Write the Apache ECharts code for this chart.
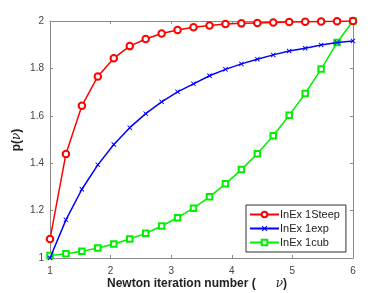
<!DOCTYPE html>
<html>
<head>
<meta charset="utf-8">
<script src="https://cdn.jsdelivr.net/npm/echarts@6/dist/echarts.min.js"></script>
<style>html,body{margin:0;padding:0;background:#fff}#c{width:390px;height:293px}</style>
</head>
<body>
<div id="c"></div>
<script>
const xVals = [1, 1.263, 1.526, 1.789, 2.053, 2.316, 2.579, 2.842, 3.105, 3.368, 3.632, 3.895, 4.158, 4.421, 4.684, 4.947, 5.211, 5.474, 5.737, 6];
const steepVals = [1.080, 1.439, 1.642, 1.766, 1.843, 1.894, 1.924, 1.947, 1.962, 1.974, 1.981, 1.987, 1.990, 1.992, 1.994, 1.996, 1.997, 1.998, 1.999, 2.0];
const expVals = [1.0, 1.161, 1.290, 1.393, 1.479, 1.550, 1.609, 1.659, 1.701, 1.735, 1.769, 1.796, 1.819, 1.839, 1.857, 1.873, 1.885, 1.899, 1.909, 1.916];
const cubVals = [1.011, 1.018, 1.028, 1.042, 1.059, 1.080, 1.104, 1.135, 1.170, 1.210, 1.258, 1.313, 1.373, 1.440, 1.516, 1.602, 1.694, 1.797, 1.909, 2.0];
const seriesNames = ['InEx 1Steep', 'InEx 1exp', 'InEx 1cub'];
const xTicks = [1, 2, 3, 4, 5, 6];
const yTicks = [1, 1.2, 1.4, 1.6, 1.8, 2];

const font = 'Liberation Sans, Arial, Helvetica, sans-serif';
const axisColor = '#8a8a8a';
const labelColor = '#444';
const pair = (ys) => xVals.map((x, i) => [x, ys[i]]);
const crossPath = 'path://M0,1.3L1.3,0L5,3.7L8.7,0L10,1.3L6.3,5L10,8.7L8.7,10L5,6.3L1.3,10L0,8.7L3.7,5Z';

const chart = echarts.init(document.getElementById('c'), null, {renderer: 'canvas'});
const baseAxis = {
  axisLine: {show: true, lineStyle: {color: axisColor, width: 1}},
  axisTick: {show: true, inside: true, length: 3, lineStyle: {color: axisColor}},
  splitLine: {show: false}
};
chart.setOption({
  animation: false,
  backgroundColor: '#fff',
  grid: {left: 50, right: 37, top: 21, bottom: 35},
  xAxis: [
    Object.assign({}, baseAxis, {
      type: 'value', min: 1, max: 6, interval: 1, position: 'bottom',
      axisLabel: {color: labelColor, fontSize: 10, fontFamily: font, margin: 8,
        formatter: v => xTicks.includes(v) ? String(v) : ''}
    }),
    Object.assign({}, baseAxis, {
      type: 'value', min: 1, max: 6, interval: 1, position: 'top',
      axisLabel: {show: false}
    })
  ],
  yAxis: [
    Object.assign({}, baseAxis, {
      type: 'value', min: 1, max: 2, interval: 0.2, position: 'left',
      axisLabel: {color: labelColor, fontSize: 10, fontFamily: font, margin: 6,
        formatter: v => { const r = Math.round(v * 10) / 10; return yTicks.includes(r) ? String(r) : ''; }}
    }),
    Object.assign({}, baseAxis, {
      type: 'value', min: 1, max: 2, interval: 0.2, position: 'right',
      axisLabel: {show: false}
    })
  ],
  legend: {
    left: 246, top: 205, orient: 'vertical',
    width: 98, height: 44,
    padding: [4, 6, 4, 3],
    itemGap: 3,
    itemWidth: 29, itemHeight: 7,
    borderColor: '#333', borderWidth: 1, backgroundColor: '#fff',
    textStyle: {fontSize: 11, fontFamily: font, color: '#222', padding: [0, 0, 0, -4]},
    data: seriesNames
  },
  series: [
    {name: seriesNames[0], type: 'line', data: pair(steepVals), symbol: 'emptyCircle', symbolSize: 6.5,
      lineStyle: {color: '#ff0000', width: 1.5}, itemStyle: {color: '#ff0000', borderWidth: 1.2}, z: 3},
    {name: seriesNames[1], type: 'line', data: pair(expVals), symbol: crossPath, symbolSize: 5,
      lineStyle: {color: '#0000ff', width: 1.5}, itemStyle: {color: '#0000ff'}, z: 2},
    {name: seriesNames[2], type: 'line', data: pair(cubVals), symbol: 'emptyRect', symbolSize: 5.5,
      lineStyle: {color: '#00ee00', width: 1.5}, itemStyle: {color: '#00ee00', borderWidth: 1.1}, z: 1}
  ],
  graphic: [
    {type: 'text', left: 107, top: 278, style: {
      text: '{b|Newton iteration number (      }{i|ν}{b|)}',
      rich: {
        b: {fontSize: 12, fontWeight: 'bold', fontFamily: font, fill: '#222'},
        i: {fontSize: 12, fontStyle: 'italic', fontFamily: 'DejaVu Serif, serif', fill: '#222'}
      }
    }},
    {type: 'text', x: 17, y: 140, rotation: Math.PI / 2, style: {
      text: '{b|p(}{i|ν}{b|)}', align: 'center', verticalAlign: 'middle',
      rich: {
        b: {fontSize: 12, fontWeight: 'bold', fontFamily: font, fill: '#222'},
        i: {fontSize: 12, fontStyle: 'italic', fontFamily: 'DejaVu Serif, serif', fill: '#222'}
      }
    }}
  ]
});
</script>
</body>
</html>
